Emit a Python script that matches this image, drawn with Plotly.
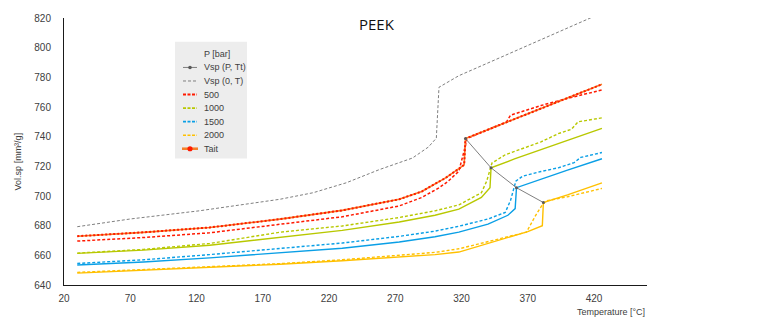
import plotly.graph_objects as go

# ---- data: specific volume of PEEK vs temperature ----
# Vsp(0, T)
t_v0 = [30, 70, 122, 183, 208, 233, 258, 283, 295, 301, 303, 318, 340, 360, 380, 400, 419]
v_v0 = [679.3, 684.5, 690.0, 697.8, 702.2, 708.9, 717.8, 725.6, 733.0, 739.0, 773.3, 781.1, 789.7, 797.6, 805.4, 813.2, 820.7]

# Vsp(P, Tt): transition points
t_vt = [323, 342.3, 361.5, 381.8]
v_vt = [738.7, 719.0, 705.6, 695.6]

# measured, 500 / 1000 / 1500 / 2000 bar
t_500 = [30, 80, 130, 183, 230, 273, 290, 303, 310, 318, 321, 323, 324, 340, 354, 357, 380, 400, 426]
v_500 = [669.6, 672.0, 675.2, 680.7, 686.0, 693.3, 699.0, 705.5, 710.0, 716.7, 726.0, 734.0, 738.7, 744.5, 750.0, 754.5, 761.0, 765.8, 771.5]

t_1000 = [30, 80, 130, 183, 230, 273, 300, 318, 335, 339, 343, 353, 380, 393, 403, 408, 426]
v_1000 = [661.5, 664.0, 668.0, 675.6, 679.8, 685.5, 690.0, 694.0, 702.2, 710.0, 722.2, 727.8, 736.5, 742.0, 745.0, 750.0, 752.7]

t_1500 = [30, 80, 130, 183, 230, 273, 300, 318, 340, 353, 357, 361, 366, 380, 393, 405, 410, 426]
v_1500 = [654.5, 657.0, 660.5, 664.9, 668.3, 672.8, 676.3, 679.6, 684.5, 688.9, 697.0, 710.0, 713.3, 716.5, 719.0, 722.5, 726.0, 729.3]

t_2000 = [30, 80, 130, 183, 230, 273, 300, 318, 348, 369, 376, 381, 384, 400, 426]
v_2000 = [648.5, 650.5, 652.6, 654.4, 657.0, 660.0, 662.0, 664.4, 671.0, 675.6, 687.0, 694.0, 696.7, 699.5, 705.1]

# Tait model, 500 / 1000 / 1500 / 2000 bar
t_tait500 = [30, 80, 130, 183, 230, 273, 290, 308, 318, 322, 323, 340, 356, 380, 400, 426]
v_tait500 = [672.9, 675.5, 678.8, 684.4, 690.3, 697.8, 703.0, 712.2, 718.4, 721.0, 738.7, 744.7, 750.4, 759.0, 766.1, 775.3]

t_tait1000 = [30, 80, 130, 183, 230, 273, 300, 318, 335, 341.5, 342.3, 360, 380, 400, 426]
v_tait1000 = [661.3, 663.5, 666.8, 672.2, 676.8, 682.5, 687.0, 691.1, 699.0, 705.6, 719.0, 725.0, 731.5, 737.5, 745.6]

t_tait1500 = [30, 80, 130, 183, 230, 273, 300, 318, 340, 355, 360.5, 361.5, 380, 400, 426]
v_tait1500 = [653.5, 655.5, 658.3, 661.6, 664.8, 669.0, 672.5, 675.6, 681.0, 687.0, 691.5, 705.6, 711.5, 717.5, 725.1]

t_tait2000 = [30, 80, 130, 183, 230, 273, 300, 318, 348, 370, 381, 381.8, 400, 426]
v_tait2000 = [648.0, 649.8, 651.8, 654.0, 656.3, 658.8, 660.5, 662.2, 670.0, 676.0, 680.0, 695.6, 700.8, 708.9]

x_ticks = [20, 70, 120, 170, 220, 270, 320, 370, 420]
y_ticks = [640, 660, 680, 700, 720, 740, 760, 780, 800, 820]

legend_labels = ["Vsp (P, Tt)", "Vsp (0, T)", "500", "1000", "1500", "2000", "Tait"]

# ---- styling ----
GRAY = "#7F7F7F"
RED = "#FF1A00"
ORANGE = "#F4802A"
LIME = "#B8C800"
BLUE = "#0A9FE6"
GOLD = "#FFC000"
TXT = "#404040"
FONT = "Liberation Sans"

fig = go.Figure()

def add(t, v, color, width=1.5, dash=None, **kw):
    fig.add_trace(go.Scatter(x=t, y=v, mode="lines",
                             line=dict(color=color, width=width, dash=dash),
                             showlegend=False, hoverinfo="skip", **kw))

add(t_v0, v_v0, GRAY, 1.0, "3px,2px")

add(t_tait2000, v_tait2000, GOLD, 1.4)
add(t_2000, v_2000, GOLD, 1.4, "3px,2px")
add(t_tait1500, v_tait1500, BLUE, 1.4)
add(t_1500, v_1500, BLUE, 1.4, "3px,2px")
add(t_tait1000, v_tait1000, LIME, 1.4)
add(t_1000, v_1000, LIME, 1.4, "3px,2px")

add(t_500, v_500, RED, 1.5, "3px,2px")
add(t_tait500, v_tait500, ORANGE, 1.6)
add(t_tait500, v_tait500, RED, 2.0, "2px,2px")

fig.add_trace(go.Scatter(x=t_vt, y=v_vt, mode="lines+markers",
                         line=dict(color=GRAY, width=1.0),
                         marker=dict(color="#595959", size=3),
                         showlegend=False, hoverinfo="skip"))

# ---- plot-area geometry (pixels) ----
W, H = 768, 323
L, R, T, B = 64, 121, 15, 38
PW, PH = W - L - R, H - T - B

def px(x):
    return (x - L) / PW

def py(y):
    return (H - B - y) / PH

shapes = []
annotations = []

# legend box
shapes.append(dict(type="rect", xref="paper", yref="paper",
                   x0=px(175), x1=px(247), y0=py(157), y1=py(39),
                   fillcolor="#EDEDED", line=dict(width=0), layer="above"))
annotations.append(dict(xref="paper", yref="paper", x=px(202), y=py(51),
                        text="P [bar]", showarrow=False, xanchor="left", yanchor="middle",
                        font=dict(family=FONT, size=9, color=TXT)))
row_y = [65.0, 78.7, 92.4, 106.1, 119.8, 133.5, 147.2]
sample_styles = [
    (GRAY, 1.0, "solid"),
    (GRAY, 1.0, "3px,2px"),
    (RED, 2.0, "3px,1.5px"),
    (LIME, 1.6, "3px,1.5px"),
    (BLUE, 1.6, "3px,1.5px"),
    (GOLD, 1.6, "3px,1.5px"),
    (ORANGE, 2.6, "solid"),
]
for lab, yy, (col, wd, ds) in zip(legend_labels, row_y, sample_styles):
    x0, x1 = (182, 198) if lab == "Tait" else (183, 197)
    shapes.append(dict(type="line", xref="paper", yref="paper",
                       x0=px(x0), x1=px(x1), y0=py(yy), y1=py(yy),
                       line=dict(color=col, width=wd, dash=ds), layer="above"))
    annotations.append(dict(xref="paper", yref="paper", x=px(202), y=py(yy),
                            text=lab, showarrow=False, xanchor="left", yanchor="middle",
                            font=dict(family=FONT, size=9, color=TXT)))

# legend markers
for yy, col, r in [(row_y[0], "#595959", 1.8), (row_y[6], RED, 2.6)]:
    shapes.append(dict(type="circle", xref="paper", yref="paper",
                       x0=px(190 - r), x1=px(190 + r), y0=py(yy + r), y1=py(yy - r),
                       fillcolor=col, line=dict(width=0), layer="above"))

# title and axis titles
annotations.append(dict(xref="paper", yref="paper", x=px(377), y=py(21),
                        text="PEEK", showarrow=False, xanchor="center", yanchor="middle",
                        font=dict(family="Open Sans", size=15, color="#111111")))
annotations.append(dict(xref="paper", yref="paper", x=px(18), y=py(160),
                        text="Vol.sp [mm³/g]", showarrow=False, textangle=-90,
                        xanchor="center", yanchor="middle",
                        font=dict(family=FONT, size=9, color=TXT)))
annotations.append(dict(xref="paper", yref="paper", x=px(647), y=py(312),
                        text="Temperature [°C]", showarrow=False,
                        xanchor="right", yanchor="middle",
                        font=dict(family=FONT, size=9, color=TXT)))

fig.update_layout(
    width=W, height=H,
    margin=dict(l=L, r=R, t=T, b=B, pad=0),
    paper_bgcolor="white", plot_bgcolor="white",
    showlegend=False,
    shapes=shapes, annotations=annotations,
    xaxis=dict(range=[20, 460], tickvals=x_ticks, ticktext=[str(v) for v in x_ticks],
               showgrid=False, zeroline=False, showline=True, linecolor="#1A1A1A",
               linewidth=1, ticks="", ticklabelstandoff=4,
               tickfont=dict(family=FONT, size=10, color=TXT)),
    yaxis=dict(range=[640, 820], tickvals=y_ticks, ticktext=[str(v) for v in y_ticks],
               showgrid=False, zeroline=False, showline=True, linecolor="#1A1A1A",
               linewidth=1, ticks="", ticklabelstandoff=10,
               tickfont=dict(family=FONT, size=10, color=TXT)),
)

fig.write_html("out.html")
